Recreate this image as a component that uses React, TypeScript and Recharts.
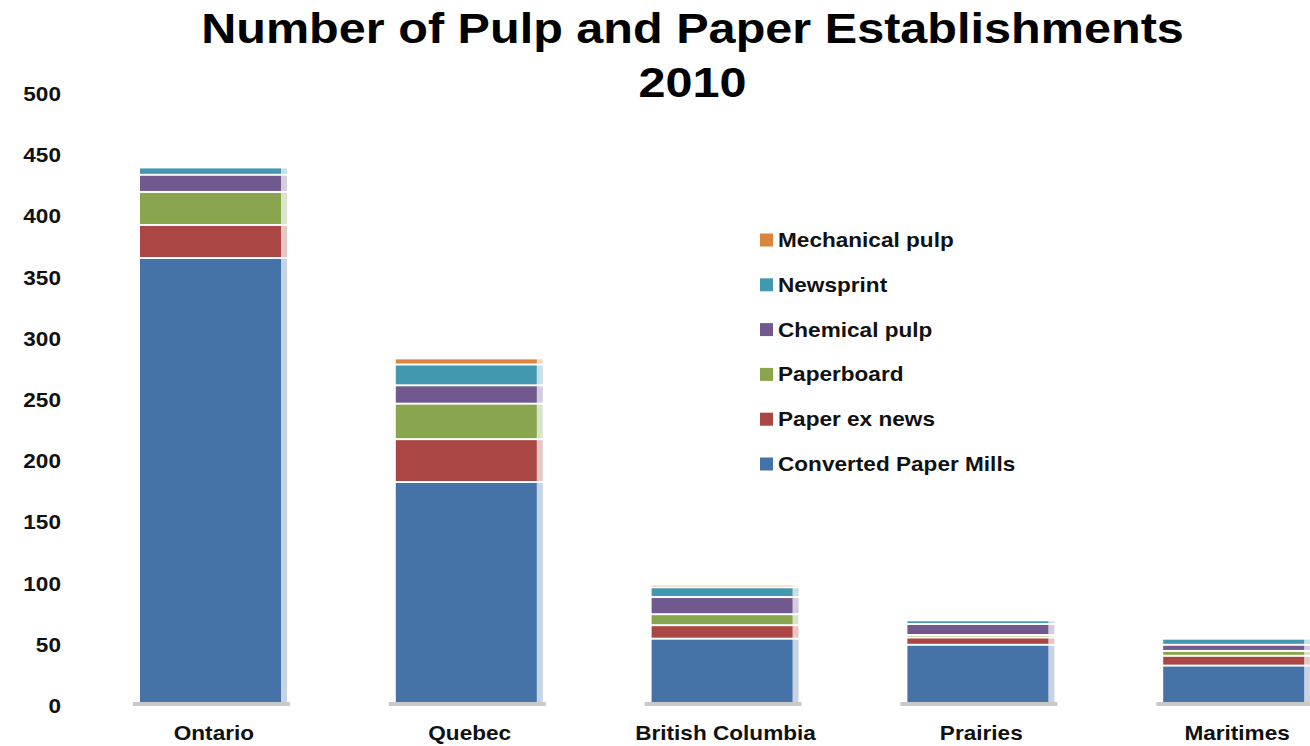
import React from 'react';
import { BarChart, Bar, XAxis, YAxis } from 'recharts';

const categories = ['Ontario', 'Quebec', 'British Columbia', 'Prairies', 'Maritimes'];
const convertedPaperMills = [366, 183, 55, 50, 33];
const paperExNews = [27, 35, 11, 6, 8];
const paperboard = [27, 29, 9, 2, 4];
const chemicalPulp = [14, 15, 14, 9, 5];
const newsprint = [6, 17, 8, 3, 5];
const mechanicalPulp = [0, 5, 2, 0, 0];
const yTicks = [0, 50, 100, 150, 200, 250, 300, 350, 400, 450, 500];
const titleLines = ['Number of Pulp and Paper Establishments', '2010'];

const series = [
  { key: 'converted', name: 'Converted Paper Mills', values: convertedPaperMills, color: '#4572A7' },
  { key: 'paperExNews', name: 'Paper ex news', values: paperExNews, color: '#AA4643' },
  { key: 'paperboard', name: 'Paperboard', values: paperboard, color: '#89A54E' },
  { key: 'chemical', name: 'Chemical pulp', values: chemicalPulp, color: '#71588F' },
  { key: 'newsprint', name: 'Newsprint', values: newsprint, color: '#4198AF' },
  { key: 'mechanical', name: 'Mechanical pulp', values: mechanicalPulp, color: '#DB843D' },
];

const data = categories.map((c, i) => {
  const row: any = { category: c };
  series.forEach((s) => {
    row[s.key] = s.values[i];
  });
  return row;
});

const FONT = '"Liberation Sans", Arial, sans-serif';
const SX = 1.13;

function SegmentShape(props: any) {
  const { x, y, width, height, fill, isBase } = props;
  if (!(height > 0)) return null;
  const top = y + 1;
  const bottom = isBase ? y + height - 4 : y + height - 1;
  const h = bottom - top;
  return (
    <g>
      {h > 0 && <rect x={x} y={top} width={width - 6} height={h} fill={fill} />}
      {h > 0 && <rect x={x + width - 6} y={top} width={6} height={h} fill={fill} fillOpacity={0.3} />}
      {isBase && <rect x={x - 7} y={y + height - 4} width={width + 10} height={4} fill="#c9c9c9" />}
    </g>
  );
}

const XTick = (props: any) => {
  const { x, y, payload } = props;
  return (
    <g transform={`translate(${x},${y + 20}) scale(${SX},1)`}>
      <text x={0} y={0} textAnchor="middle" fontFamily={FONT} fontSize={20} fontWeight="bold" fill="#111">
        {payload.value}
      </text>
    </g>
  );
};

const YTick = (props: any) => {
  const { x, y, payload } = props;
  return (
    <g transform={`translate(${x},${y}) scale(${SX},1)`}>
      <text x={0} y={0} dy="0.35em" textAnchor="end" fontFamily={FONT} fontSize={20} fontWeight="bold" fill="#111">
        {payload.value}
      </text>
    </g>
  );
};

const legendRows = [...series].reverse();
const legendTop = 240;
const legendStep = 44.8;

export default function App() {
  return (
    <div
      style={{
        position: 'absolute',
        left: 0,
        top: 0,
        width: 1310,
        height: 746,
        overflow: 'hidden',
        background: '#fff',
      }}
    >
      <BarChart width={1370} height={746} data={data} margin={{ top: 94, right: 5, bottom: 0, left: 0 }}>
        <XAxis dataKey="category" height={40} axisLine={false} tickLine={false} tickMargin={8} interval={0} tick={<XTick />} />
        <YAxis
          width={86}
          domain={[0, 500]}
          ticks={yTicks}
          axisLine={false}
          tickLine={false}
          tickMargin={19}
          tick={<YTick />}
          interval={0}
        />
        {series.map((s, idx) => (
          <Bar
            key={s.key}
            dataKey={s.key}
            name={s.name}
            stackId="a"
            fill={s.color}
            barSize={147}
            isAnimationActive={false}
            shape={(p: any) => <SegmentShape {...p} fill={s.color} isBase={idx === 0} />}
          />
        ))}
      </BarChart>
      <svg
        width={1310}
        height={746}
        style={{ position: 'absolute', left: 0, top: 0, pointerEvents: 'none' }}
      >
        <g transform={`translate(692.5,43) scale(${SX},1)`}>
          <text x={0} y={0} textAnchor="middle" fontFamily={FONT} fontSize={43} fontWeight="bold" fill="#000">
            {titleLines[0]}
          </text>
        </g>
        <g transform={`translate(692.5,97) scale(${SX},1)`}>
          <text x={0} y={0} textAnchor="middle" fontFamily={FONT} fontSize={43} fontWeight="bold" fill="#000">
            {titleLines[1]}
          </text>
        </g>
        {legendRows.map((s, i) => {
          const cy = legendTop + i * legendStep;
          return (
            <g key={s.key}>
              <rect x={760} y={cy - 6.5} width={13} height={13} fill={s.color} />
              <g transform={`translate(778,${cy}) scale(${SX},1)`}>
                <text x={0} y={0} dy="0.35em" fontFamily={FONT} fontSize={20} fontWeight="bold" fill="#111">
                  {s.name}
                </text>
              </g>
            </g>
          );
        })}
      </svg>
    </div>
  );
}
